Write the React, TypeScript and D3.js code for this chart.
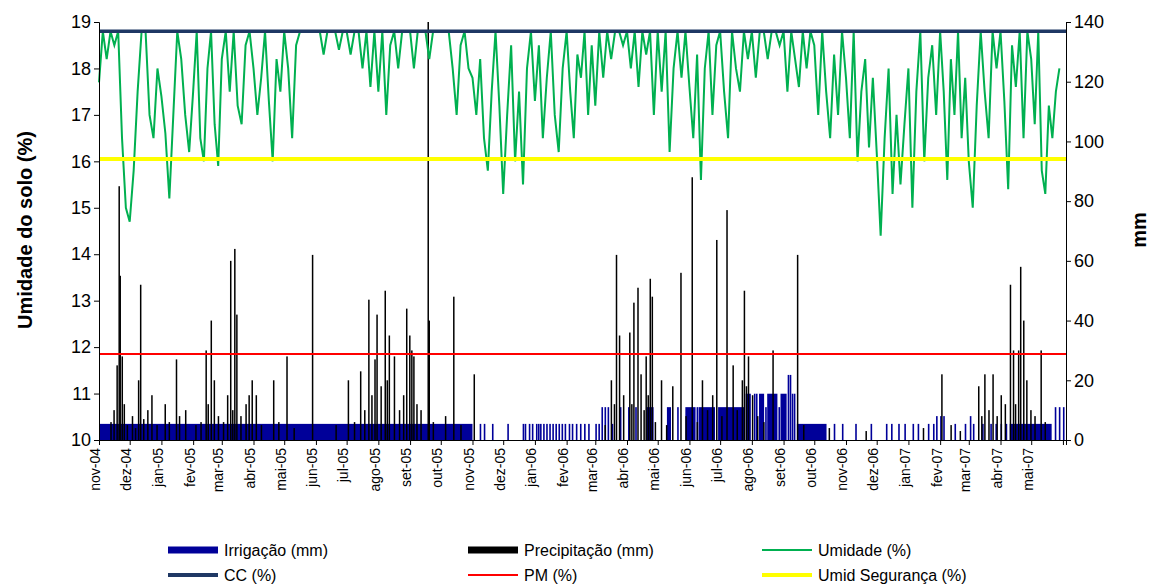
import React, { useRef, useEffect } from "react";
import * as d3 from "d3";

// monthly tick labels
const months = ["nov-04","dez-04","jan-05","fev-05","mar-05","abr-05","mai-05","jun-05","jul-05","ago-05","set-05","out-05","nov-05","dez-05","jan-06","fev-06","mar-06","abr-06","mai-06","jun-06","jul-06","ago-06","set-06","out-06","nov-06","dez-06","jan-07","fev-07","mar-07","abr-07","mai-07"];

// soil moisture (%) read per month, evenly spread inside each month
const umidade: number[][] = [
  [17.7,18.8,18.2,18.8,18.5,18.8,16.5,15.0],
  [14.7,15.8,17.5,18.8,18.8,17.0,16.5,18.0],
  [17.4,16.6,15.2,17.0,18.8,18.2,17.0,16.2],
  [17.5,18.8,16.5,16.0,18.0,18.8,16.8,15.9],
  [18.2,18.8,17.5,18.8,17.2,16.8,18.5,18.8],
  [18.0,17.0,17.8,18.8,17.3,16.0,18.2,17.5],
  [18.8,18.0,16.5,18.5,18.8,18.8,18.8,18.8],
  [18.8,18.8,18.3,18.8,18.8,18.8,18.4,18.8],
  [18.8,18.3,18.8,18.8,18.0,18.8,17.6,18.8],
  [17.5,18.8,17.0,18.5,18.8,18.0,18.8,18.8],
  [18.8,18.0,18.8,18.8,18.8,18.2,18.8,18.8],
  [18.8,18.8,18.8,18.0,17.0,18.5,18.8,18.0],
  [17.8,17.0,18.2,16.5,15.8,17.5,18.8,17.2],
  [15.3,17.0,18.5,16.0,17.5,15.5,18.0,18.8],
  [17.3,18.5,16.5,17.8,18.8,17.0,16.2,18.0],
  [18.8,17.5,16.5,18.3,17.8,18.8,17.0,18.5],
  [17.2,18.8,17.8,18.8,18.2,18.8,18.8,18.5],
  [18.8,18.0,18.8,17.6,18.8,18.3,18.8,17.0],
  [18.8,17.5,18.8,16.2,18.0,18.8,17.8,18.8],
  [17.6,16.5,18.3,15.6,18.0,18.8,17.0,18.5],
  [18.8,17.5,16.5,18.8,18.0,17.5,18.8,18.2],
  [18.8,17.8,18.8,18.8,18.2,18.8,18.8,18.5],
  [18.8,17.5,18.8,18.2,17.6,18.8,18.0,18.8],
  [18.5,17.0,18.8,17.5,16.5,18.3,17.0,18.8],
  [17.8,16.5,18.8,16.0,17.5,18.2,16.3,17.8],
  [16.2,14.4,16.5,18.0,15.3,17.0,15.5,16.8],
  [18.0,15.0,17.5,18.8,16.0,17.8,18.5,17.0],
  [18.8,17.5,15.6,18.2,17.0,18.8,16.5,17.8],
  [16.0,15.0,17.2,18.8,17.5,16.5,18.8,18.0],
  [18.8,17.3,15.4,18.5,17.6,18.8,16.5,18.8],
  [18.2,16.8,18.8,15.8,15.3,17.2,16.5,17.5,18.0],
];

// precipitation events [date, mm]
const precipitacao: [string, number][] = [
  ["2004-11-12",6],["2004-11-15",10],["2004-11-18",25],["2004-11-20",85],["2004-11-21",55],["2004-11-23",28],["2004-11-25",12],["2004-11-28",5],
  ["2004-12-03",8],["2004-12-06",4],["2004-12-09",20],["2004-12-11",52],["2004-12-14",7],["2004-12-18",10],["2004-12-22",15],["2004-12-27",5],
  ["2005-01-04",12],["2005-01-08",6],["2005-01-15",27],["2005-01-18",8],["2005-01-24",10],["2005-02-03",5],["2005-02-08",6],
  ["2005-02-13",30],["2005-02-15",12],["2005-02-18",40],["2005-02-21",20],["2005-02-25",8],["2005-03-02",6],["2005-03-06",15],["2005-03-09",60],["2005-03-11",10],["2005-03-13",64],["2005-03-15",42],["2005-03-19",8],["2005-03-24",12],
  ["2005-03-27",15],["2005-03-30",20],["2005-04-03",15],["2005-04-08",5],["2005-04-20",20],["2005-04-25",6],["2005-05-03",28],["2005-05-10",4],["2005-05-28",62],
  ["2005-06-20",5],["2005-07-02",20],["2005-07-08",6],["2005-07-14",23],["2005-07-18",10],["2005-07-22",47],["2005-07-25",15],["2005-07-28",27],["2005-07-30",42],["2005-08-03",18],["2005-08-07",50],["2005-08-09",20],["2005-08-11",35],["2005-08-16",28],["2005-08-21",10],["2005-08-25",15],["2005-08-28",44],["2005-08-31",35],["2005-09-02",30],["2005-09-04",28],["2005-09-07",12],["2005-09-11",10],["2005-09-18",140],["2005-09-19",40],["2005-09-23",6],
  ["2005-10-05",8],["2005-10-13",48],["2005-10-20",5],["2005-11-02",22],
  ["2006-03-10",5],["2006-03-16",20],["2006-03-19",12],["2006-03-21",62],["2006-03-24",35],["2006-03-28",15],["2006-04-03",36],["2006-04-05",12],["2006-04-07",46],["2006-04-11",51],["2006-04-14",22],["2006-04-17",10],["2006-04-19",28],["2006-04-21",15],["2006-04-23",54],["2006-04-25",48],["2006-04-28",6],["2006-05-04",20],["2006-05-09",5],["2006-05-15",18],["2006-05-23",56],["2006-05-28",8],
  ["2006-06-03",88],["2006-06-08",6],["2006-06-13",20],["2006-06-18",10],["2006-06-23",15],["2006-06-27",67],["2006-07-02",8],["2006-07-07",77],["2006-07-13",25],["2006-07-17",10],["2006-07-22",20],["2006-07-24",50],["2006-07-26",18],["2006-07-28",28],["2006-08-01",15],["2006-08-06",8],["2006-08-12",6],["2006-08-21",30],["2006-09-14",62],["2006-09-20",5],
  ["2006-10-15",4],["2006-11-20",3],["2007-01-15",4],["2007-02-02",22],["2007-02-11",5],["2007-02-20",3],["2007-03-10",18],["2007-03-13",8],["2007-03-16",22],["2007-03-20",10],["2007-03-24",22],["2007-03-28",8],["2007-04-01",15],["2007-04-05",12],["2007-04-10",52],["2007-04-13",30],["2007-04-15",12],["2007-04-18",30],["2007-04-20",58],["2007-04-23",40],["2007-04-26",20],["2007-04-30",10],["2007-05-04",8],["2007-05-10",30],["2007-05-14",6],
];

// irrigation: continuous daily runs [from, to, mm]
const irrigRuns: [string, string, number][] = [
  ["2004-11-01","2005-10-31",5.4],
  ["2006-04-20","2006-04-26",11],
  ["2006-05-10","2006-05-13",11],
  ["2006-05-28","2006-06-06",11],
  ["2006-06-10","2006-06-25",11],
  ["2006-06-29","2006-07-24",11],
  ["2006-07-26","2006-07-30",15.5],
  ["2006-08-08","2006-08-12",15.5],
  ["2006-08-16","2006-08-25",15.5],
  ["2006-08-29","2006-09-03",15.5],
  ["2006-09-14","2006-10-12",5.4],
];
// irrigation: isolated days [date, mm]
const irrigDays: [string, number][] = [
  ["2005-11-08",5.4],["2005-11-12",5.4],["2005-11-20",5.4],["2005-12-05",5.4],["2005-12-20",5.4],["2005-12-22",5.4],["2005-12-26",5.4],["2005-12-29",5.4],
  ["2006-01-02",5.4],["2006-01-04",5.4],["2006-01-06",5.4],["2006-01-09",5.4],["2006-01-12",5.4],["2006-01-15",5.4],["2006-01-18",5.4],["2006-01-21",5.4],["2006-01-24",5.4],["2006-01-27",5.4],["2006-01-30",5.4],
  ["2006-02-03",5.4],["2006-02-06",5.4],["2006-02-10",5.4],["2006-02-14",5.4],["2006-02-18",5.4],["2006-02-22",5.4],["2006-03-01",5.4],["2006-03-04",5.4],
  ["2006-03-07",11],["2006-03-10",11],["2006-03-13",11],["2006-03-17",5.4],["2006-03-25",11],["2006-04-02",11],["2006-04-09",11],
  ["2006-05-20",11],["2006-06-08",11],["2006-07-28",11],["2006-08-03",15.5],["2006-08-05",15.5],["2006-08-14",11],["2006-08-27",11],
  ["2006-09-05",21.8],["2006-09-07",21.8],["2006-09-09",15.5],["2006-09-11",15.5],
  ["2006-10-20",5.4],["2006-10-28",5.4],["2006-11-10",5.4],["2006-11-25",5.4],["2006-12-10",5.4],["2006-12-15",5.4],["2006-12-22",5.4],["2006-12-28",5.4],
  ["2007-01-05",5.4],["2007-01-10",5.4],["2007-01-20",5.4],["2007-01-25",5.4],["2007-01-28",8],["2007-02-01",8],["2007-02-04",8],["2007-02-15",5.4],["2007-02-25",5.4],["2007-03-02",8],["2007-03-05",5.4],["2007-03-14",5.4],["2007-03-22",5.4],["2007-03-27",5.4],
  ["2007-04-01",5.4],["2007-04-06",5.4],["2007-05-24",11],["2007-05-28",11],["2007-06-01",11],
];
const irrigRuns07: [string, string, number][] = [["2007-04-10","2007-05-20",5.4]];

const CC = 18.8, PM = 11.85, SEG = 16.05;

const legendItems = [
  { label: "Irrigação (mm)", color: "#000099", w: 7 },
  { label: "Precipitação (mm)", color: "#000000", w: 7 },
  { label: "Umidade (%)", color: "#00B050", w: 2 },
  { label: "CC (%)", color: "#1F3864", w: 4 },
  { label: "PM (%)", color: "#FF0000", w: 2 },
  { label: "Umid Segurança (%)", color: "#FFFF00", w: 4 },
];

const App: React.FC = () => {
  const ref = useRef<SVGSVGElement | null>(null);

  useEffect(() => {
    const svg = d3.select(ref.current);
    svg.selectAll("*").remove();
    const parse = d3.timeParse("%Y-%m-%d");
    const left = 99, right = 1066, top = 22, bottom = 440;
    const x = d3.scaleTime().domain([parse("2004-11-01")!, parse("2007-06-04")!]).range([left, right]);
    const yL = d3.scaleLinear().domain([10, 19]).range([bottom, top]);
    const yR = d3.scaleLinear().domain([0, 140]).range([bottom, top]);
    const font = "Arial, 'Liberation Sans', sans-serif";

    // irrigation
    const g = svg.append("g");
    [...irrigRuns, ...irrigRuns07].forEach(([a, b, v]) => {
      g.append("rect").attr("x", x(parse(a)!)).attr("width", x(parse(b)!) - x(parse(a)!) + 1)
        .attr("y", yR(v)).attr("height", bottom - yR(v)).attr("fill", "#000099");
    });
    irrigDays.forEach(([d, v]) => {
      g.append("rect").attr("x", x(parse(d)!)).attr("width", 1.6)
        .attr("y", yR(v)).attr("height", bottom - yR(v)).attr("fill", "#000099");
    });
    // precipitation
    precipitacao.forEach(([d, v]) => {
      g.append("rect").attr("x", x(parse(d)!)).attr("width", 1.5)
        .attr("y", yR(v)).attr("height", bottom - yR(v)).attr("fill", "#000");
    });

    // moisture line
    const pts: [Date, number][] = [];
    umidade.forEach((vals, m) => {
      const s = d3.timeMonth.offset(parse("2004-11-01")!, m);
      const e = d3.timeMonth.offset(s, 1);
      vals.forEach((v, i) => pts.push([new Date(+s + (i / vals.length) * (+e - +s)), v]));
    });
    svg.append("path").datum(pts)
      .attr("d", d3.line<[Date, number]>().x((d) => x(d[0])).y((d) => yL(d[1])))
      .attr("fill", "none").attr("stroke", "#00B050").attr("stroke-width", 2);

    const hline = (v: number, c: string, w: number) =>
      svg.append("line").attr("x1", left).attr("x2", right).attr("y1", yL(v)).attr("y2", yL(v))
        .attr("stroke", c).attr("stroke-width", w);
    hline(SEG, "#FFFF00", 4);
    hline(PM, "#FF0000", 2);
    hline(CC, "#1F3864", 3.5);

    // axes
    const ax = svg.append("g").attr("transform", `translate(0,${bottom})`)
      .call(d3.axisBottom(x).ticks(d3.timeMonth.every(1)).tickSize(5).tickFormat((d, i) => months[i] ?? ""));
    ax.selectAll("text").attr("transform", "rotate(-90)").attr("text-anchor", "end")
      .attr("x", -8).attr("y", -4).attr("dy", "0.35em").style("font-family", font).style("font-size", "14px");
    const ayl = svg.append("g").attr("transform", `translate(${left},0)`)
      .call(d3.axisLeft(yL).ticks(9).tickSize(5));
    ayl.selectAll("text").style("font-family", font).style("font-size", "18px");
    const ayr = svg.append("g").attr("transform", `translate(${right},0)`)
      .call(d3.axisRight(yR).ticks(7).tickSize(5));
    ayr.selectAll("text").style("font-family", font).style("font-size", "18px");
    svg.selectAll(".domain").attr("stroke", "#000");

    svg.append("text").attr("transform", "translate(32,230) rotate(-90)").attr("text-anchor", "middle")
      .style("font-family", font).style("font-size", "20px").style("font-weight", "bold").text("Umidade do solo (%)");
    svg.append("text").attr("transform", "translate(1146,230) rotate(-90)").attr("text-anchor", "middle")
      .style("font-family", font).style("font-size", "20px").style("font-weight", "bold").text("mm");

    // legend
    const cols = [168, 468, 762];
    legendItems.forEach((it, i) => {
      const cx = cols[i % 3], cy = i < 3 ? 550 : 575;
      svg.append("line").attr("x1", cx).attr("x2", cx + 50).attr("y1", cy).attr("y2", cy)
        .attr("stroke", it.color).attr("stroke-width", it.w);
      svg.append("text").attr("x", cx + 56).attr("y", cy + 6)
        .style("font-family", font).style("font-size", "16px").text(it.label);
    });
  }, []);

  return <svg ref={ref} width={1159} height={587} style={{ position: "absolute", left: 0, top: 0, background: "#fff" }} />;
};

export default App;
